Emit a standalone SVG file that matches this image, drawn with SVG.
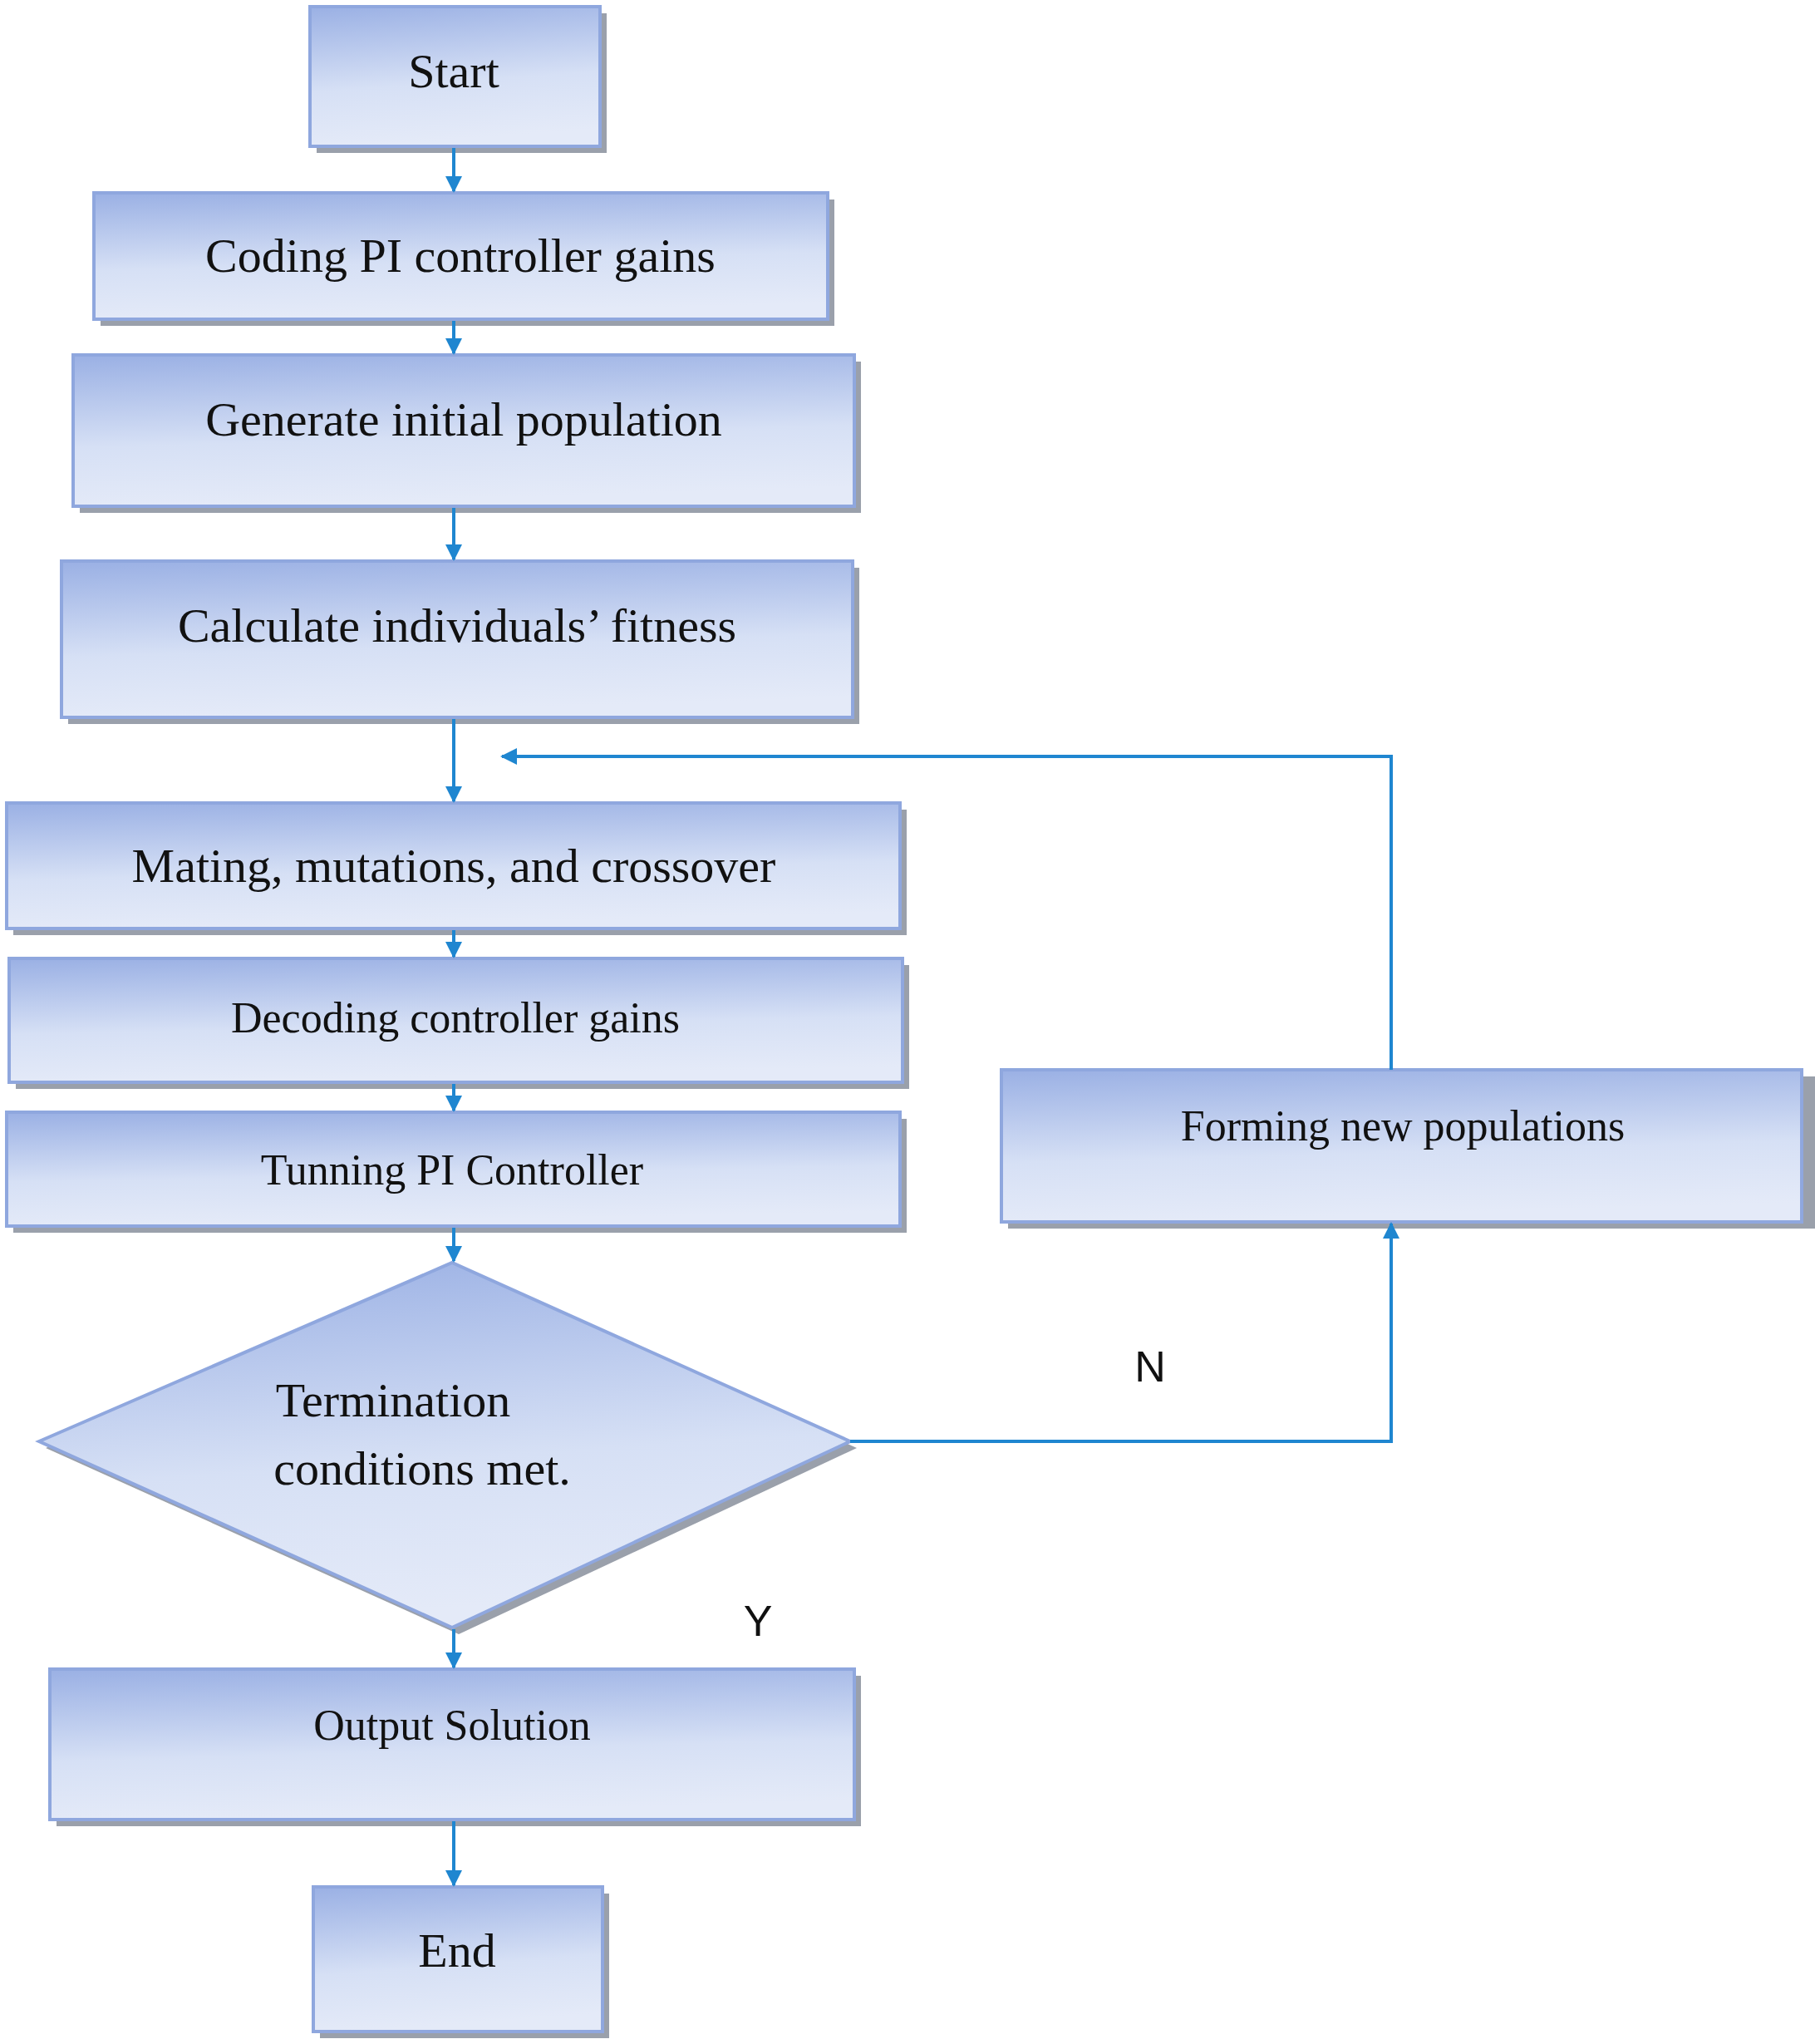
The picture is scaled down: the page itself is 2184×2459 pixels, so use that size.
<svg xmlns="http://www.w3.org/2000/svg" width="2184" height="2459" viewBox="0 0 2184 2459">
<defs>
<linearGradient id="g" x1="0" y1="0" x2="0.15" y2="1">
<stop offset="0" stop-color="#9ab0e4"/><stop offset="0.6" stop-color="#d6e0f5"/><stop offset="1" stop-color="#e4eaf8"/>
</linearGradient>
<marker id="a" viewBox="0 0 10 10" refX="9" refY="5" markerWidth="5" markerHeight="5" orient="auto"><path d="M0,0L10,5L0,10z" fill="#1f86d0"/></marker>
</defs>
<style>
.b{fill:url(#g);stroke:#8fa7de;stroke-width:4}
.s{fill:#9aa0ab}
.t{font-family:"Liberation Serif",serif;font-size:58px;fill:#111;text-anchor:middle}
.u{font-family:"Liberation Serif",serif;font-size:52px;fill:#111;text-anchor:middle}
.l{font-family:"Liberation Sans",sans-serif;font-size:52px;fill:#111;text-anchor:middle}
.c{fill:none;stroke:#1f86d0;stroke-width:4}
</style>
<rect width="2184" height="2459" fill="#fff"/>
<g id="start"><rect class="s" x="381" y="16" width="349" height="168"/><rect class="b" x="373" y="8" width="349" height="168"/><text class="t" x="546" y="105">Start</text></g>
<g id="coding"><rect class="s" x="121" y="240" width="883" height="152"/><rect class="b" x="113" y="232" width="883" height="152"/><text class="t" x="554" y="327">Coding PI controller gains</text></g>
<g id="generate"><rect class="s" x="96" y="435" width="940" height="182"/><rect class="b" x="88" y="427" width="940" height="182"/><text class="t" x="558" y="524">Generate initial population</text></g>
<g id="calculate"><rect class="s" x="82" y="683" width="952" height="188"/><rect class="b" x="74" y="675" width="952" height="188"/><text class="t" x="550" y="772">Calculate individuals’ fitness</text></g>
<g id="mating"><rect class="s" x="16" y="974" width="1075" height="151"/><rect class="b" x="8" y="966" width="1075" height="151"/><text class="t" x="546" y="1061">Mating, mutations, and crossover</text></g>
<g id="decoding"><rect class="s" x="19" y="1161" width="1075" height="149"/><rect class="b" x="11" y="1153" width="1075" height="149"/><text class="u" x="548" y="1242">Decoding controller gains</text></g>
<g id="tunning"><rect class="s" x="16" y="1346" width="1075" height="137"/><rect class="b" x="8" y="1338" width="1075" height="137"/><text class="u" x="544" y="1425">Tunning PI Controller</text></g>
<g id="decision"><polygon class="s" points="55,1742 552,1527 1031,1742 552,1966"/><polygon class="b" points="47,1734 544,1519 1023,1734 544,1958"/><text class="t" x="473" y="1704">Termination</text><text class="t" x="508" y="1786">conditions met.</text></g>
<g id="output"><rect class="s" x="68" y="2016" width="968" height="181"/><rect class="b" x="60" y="2008" width="968" height="181"/><text class="u" x="544" y="2093">Output Solution</text></g>
<g id="end"><rect class="s" x="385" y="2278" width="348" height="174"/><rect class="b" x="377" y="2270" width="348" height="174"/><text class="t" x="550" y="2366">End</text></g>
<g id="forming"><rect class="s" x="1213" y="1295" width="971" height="183"/><rect class="b" x="1205" y="1287" width="963" height="183"/><text class="u" x="1688" y="1372">Forming new populations</text></g>
<g id="connectors">
<line class="c" x1="546" y1="178" x2="546" y2="230" marker-end="url(#a)"/>
<line class="c" x1="546" y1="386" x2="546" y2="425" marker-end="url(#a)"/>
<line class="c" x1="546" y1="611" x2="546" y2="673" marker-end="url(#a)"/>
<line class="c" x1="546" y1="865" x2="546" y2="964" marker-end="url(#a)"/>
<line class="c" x1="546" y1="1119" x2="546" y2="1151" marker-end="url(#a)"/>
<line class="c" x1="546" y1="1304" x2="546" y2="1336" marker-end="url(#a)"/>
<line class="c" x1="546" y1="1477" x2="546" y2="1517" marker-end="url(#a)"/>
<line class="c" x1="546" y1="1960" x2="546" y2="2006" marker-end="url(#a)"/>
<line class="c" x1="546" y1="2191" x2="546" y2="2268" marker-end="url(#a)"/>
<polyline class="c" points="1023,1734 1674,1734 1674,1472" marker-end="url(#a)"/>
<polyline class="c" points="1674,1287 1674,910 604,910" marker-end="url(#a)"/>
<text class="l" x="1384" y="1662">N</text>
<text class="l" x="912" y="1968">Y</text>
</g>
</svg>
